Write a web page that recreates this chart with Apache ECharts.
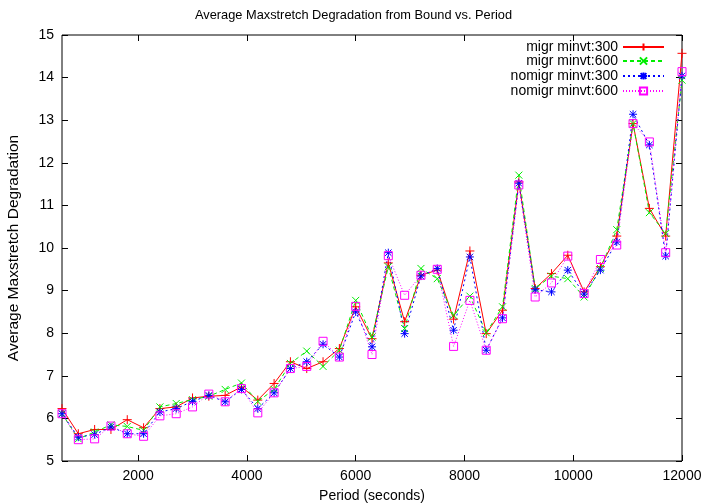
<!DOCTYPE html>
<html>
<head>
<meta charset="utf-8">
<script src="https://cdn.jsdelivr.net/npm/echarts@6/dist/echarts.min.js"></script>
<style>
  html, body { margin: 0; padding: 0; background: #fff; }
  #chart { width: 707px; height: 504px; }
</style>
</head>
<body>
<div id="chart"></div>
<script>
// period in seconds
var periods = [600, 900, 1200, 1500, 1800, 2100, 2400, 2700, 3000, 3300, 3600, 3900, 4200,
  4500, 4800, 5100, 5400, 5700, 6000, 6300, 6600, 6900, 7200, 7500, 7800, 8100, 8400,
  8700, 9000, 9300, 9600, 9900, 10200, 10500, 10800, 11100, 11400, 11700, 12000];

var migr300 = [6.23, 5.64, 5.74, 5.74, 5.97, 5.78, 6.23, 6.27, 6.48, 6.52, 6.54, 6.74, 6.43,
  6.82, 7.33, 7.17, 7.33, 7.64, 8.62, 7.87, 9.65, 8.27, 9.36, 9.48, 8.33, 9.93, 7.99,
  8.54, 11.55, 9.05, 9.40, 9.83, 8.97, 9.56, 10.28, 12.92, 10.93, 10.28, 14.57];
var migr600 = [6.11, 5.52, 5.68, 5.85, 5.81, 5.72, 6.27, 6.35, 6.44, 6.52, 6.68, 6.83, 6.40,
  6.68, 7.29, 7.58, 7.22, 7.60, 8.77, 7.91, 9.56, 8.11, 9.52, 9.28, 8.42, 8.87, 8.01,
  8.62, 11.71, 9.05, 9.34, 9.28, 8.85, 9.52, 10.43, 12.92, 10.83, 10.34, 13.94];
var nomigr300 = [6.11, 5.56, 5.62, 5.80, 5.64, 5.64, 6.15, 6.23, 6.40, 6.54, 6.39, 6.68, 6.23,
  6.60, 7.17, 7.33, 7.74, 7.44, 8.50, 7.68, 9.89, 7.99, 9.34, 9.52, 8.07, 9.79, 7.60,
  8.36, 11.52, 9.02, 8.97, 9.48, 8.92, 9.48, 10.14, 13.14, 12.42, 9.81, 14.04];
var nomigr600 = [6.11, 5.50, 5.52, 5.82, 5.64, 5.58, 6.06, 6.11, 6.27, 6.57, 6.39, 6.70, 6.13,
  6.60, 7.17, 7.22, 7.81, 7.44, 8.63, 7.50, 9.82, 8.89, 9.36, 9.50, 7.69, 8.77, 7.60,
  8.34, 11.48, 8.85, 9.18, 9.81, 8.93, 9.73, 10.07, 12.92, 12.49, 9.89, 14.14];

var seriesNames = ['migr minvt:300', 'migr minvt:600', 'nomigr minvt:300', 'nomigr minvt:600'];
var xTicks = [2000, 4000, 6000, 8000, 10000, 12000];

var FONT = '"Liberation Sans", Arial, sans-serif';

function pairs(ys) {
  return periods.map(function (p, i) { return [p, ys[i]]; });
}

var plusPath = 'path://M5,0L5,10M0,5L10,5';
var crossPath = 'path://M0,0L10,10M10,0L0,10';
var starPath = 'path://M5,0L5,10M0,5L10,5M1,1L9,9M9,1L1,9';

function mkSeries(name, ys, color, dash, symbol, size) {
  return {
    name: name,
    type: 'line',
    data: pairs(ys),
    symbol: symbol,
    symbolSize: size,
    showAllSymbol: true,
    animation: false,
    lineStyle: { color: color, width: 1, type: dash },
    itemStyle: { color: symbol === 'rect' ? 'rgba(0,0,0,0)' : color, borderColor: color, borderWidth: 1 },
    emphasis: { disabled: true }
  };
}

var chart = echarts.init(document.getElementById('chart'));

function legendAt(name, top) {
  return {
    data: [name],
    right: 42,
    top: top,
    padding: 0,
    align: 'right',
    itemWidth: 41,
    itemHeight: 9,
    itemGap: 8,
    selectedMode: false,
    textStyle: { fontFamily: FONT, fontSize: 14, color: '#000' }
  };
}

chart.setOption({
  backgroundColor: '#fff',
  animation: false,
  title: {
    text: 'Average Maxstretch Degradation from Bound vs. Period',
    left: 'center',
    top: 4,
    textStyle: { fontFamily: FONT, fontSize: 12.8, fontWeight: 'normal', color: '#000' }
  },
  legend: [
    legendAt(seriesNames[0], 40),
    legendAt(seriesNames[1], 54),
    legendAt(seriesNames[2], 69),
    legendAt(seriesNames[3], 84)
  ],
  grid: {
    left: 62, right: 25, top: 35, bottom: 43,
    outerBoundsMode: 'none',
    containLabel: false,
    show: true, borderColor: '#000', borderWidth: 1
  },
  xAxis: [{
    type: 'value',
    min: 600,
    max: 12000,
    name: 'Period (seconds)',
    nameLocation: 'middle',
    nameGap: 28,
    nameTextStyle: { fontFamily: FONT, fontSize: 14, color: '#000' },
    axisLine: { show: false },
    axisTick: { show: true, inside: true, length: 6, customValues: xTicks, lineStyle: { color: '#000' } },
    axisLabel: {
      customValues: xTicks, fontFamily: FONT, fontSize: 14, color: '#000', margin: 8,
      formatter: function (v) { return String(v); }
    },
    splitLine: { show: false }
  }, {
    type: 'value',
    position: 'top',
    min: 600,
    max: 12000,
    axisLine: { show: false },
    axisTick: { show: true, inside: true, length: 6, customValues: xTicks, lineStyle: { color: '#000' } },
    axisLabel: { show: false, customValues: xTicks },
    splitLine: { show: false }
  }],
  yAxis: [{
    type: 'value',
    min: 5,
    max: 15,
    interval: 1,
    name: 'Average Maxstretch Degradation',
    nameLocation: 'middle',
    nameGap: 40,
    nameTextStyle: { fontFamily: FONT, fontSize: 15.5, color: '#000' },
    axisLine: { show: false },
    axisTick: { show: true, inside: true, length: 6, lineStyle: { color: '#000' } },
    axisLabel: { fontFamily: FONT, fontSize: 14, color: '#000', margin: 8 },
    splitLine: { show: false }
  }, {
    type: 'value',
    position: 'right',
    min: 5,
    max: 15,
    interval: 1,
    axisLine: { show: false },
    axisTick: { show: true, inside: true, length: 6, lineStyle: { color: '#000' } },
    axisLabel: { show: false },
    splitLine: { show: false }
  }],
  series: [
    mkSeries(seriesNames[0], migr300, '#ff0000', 'solid', plusPath, 9),
    mkSeries(seriesNames[1], migr600, '#00ee00', [4, 3], crossPath, 7),
    mkSeries(seriesNames[2], nomigr300, '#0000ff', [2, 3], starPath, 8),
    mkSeries(seriesNames[3], nomigr600, '#ff00ff', [1, 2], 'rect', 8)
  ]
});
</script>
</body>
</html>
